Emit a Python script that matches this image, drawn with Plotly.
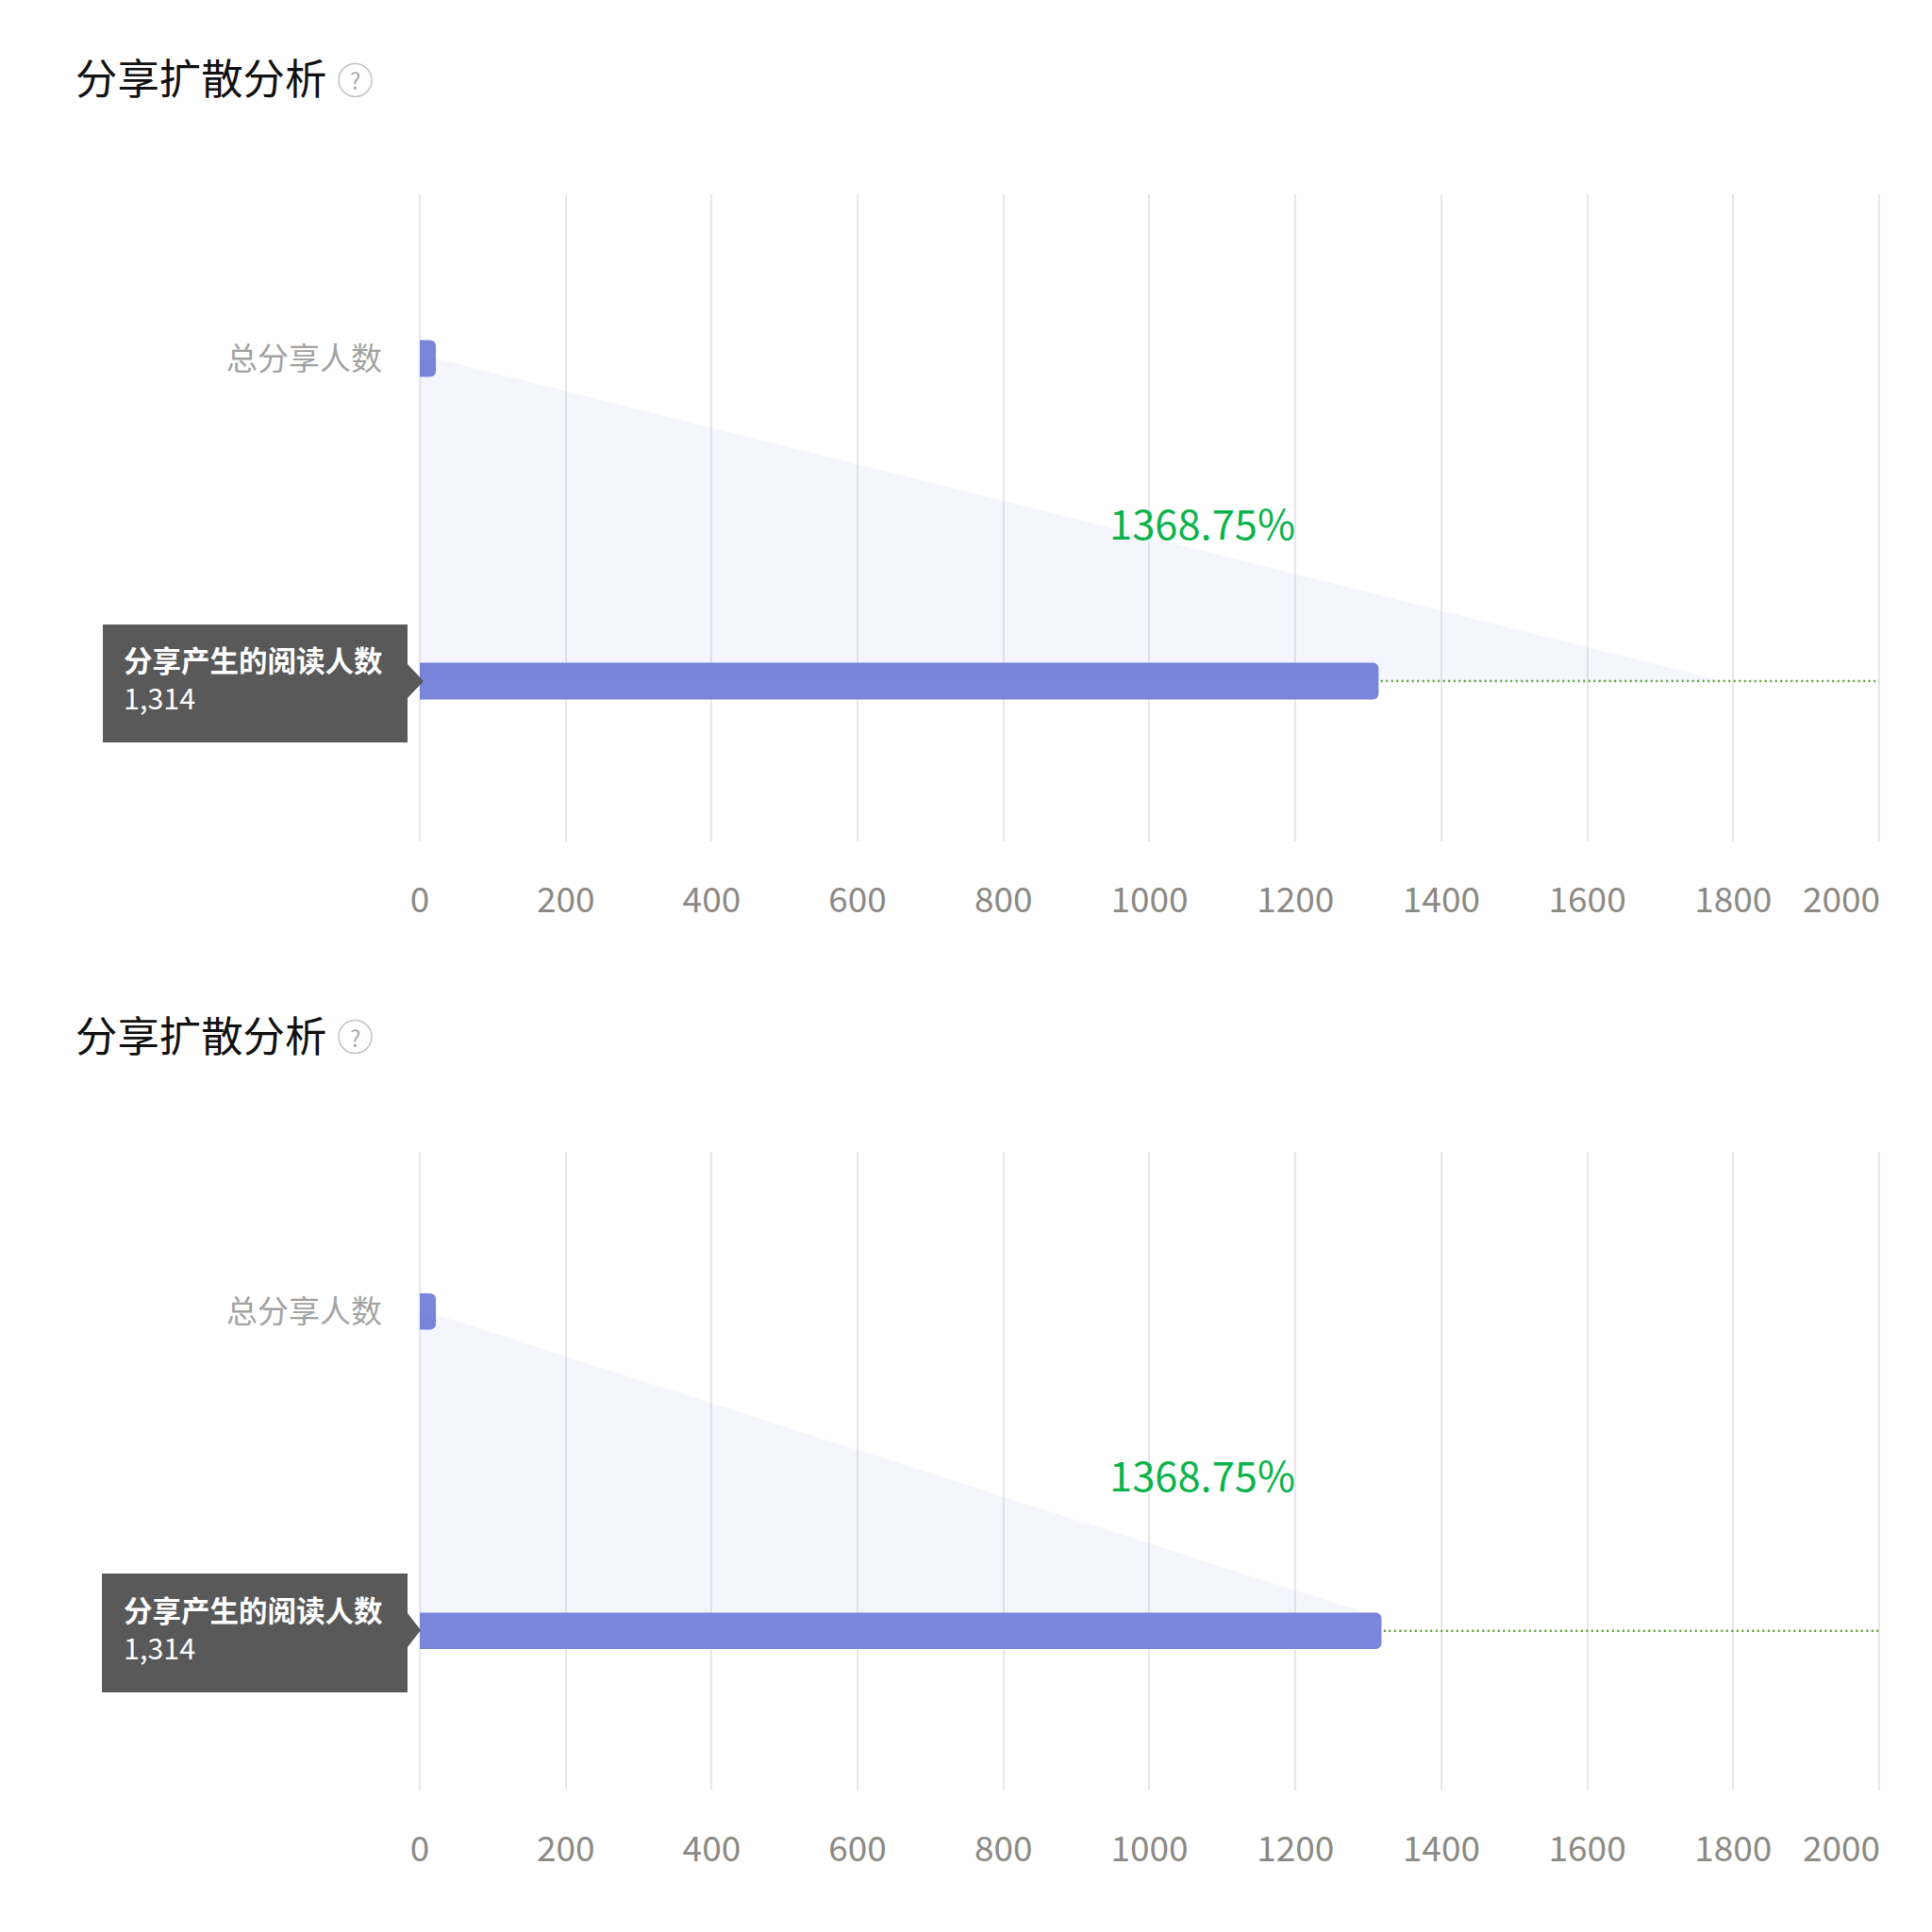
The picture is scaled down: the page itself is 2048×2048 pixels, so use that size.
import plotly.graph_objects as go

categories = ["总分享人数", "分享产生的阅读人数"]
share_values_top = [22, 1314]
share_values_bottom = [22, 1318]
funnel_x_top = [0, 22, 1785, 0]
funnel_x_bottom = [0, 22, 1295, 0]
funnel_y_top = [0.0, 0.0, 1.0, 1.0]
funnel_y_bottom = [0.01, 0.01, 0.943, 0.943]
x_ticks = [0, 200, 400, 600, 800, 1000, 1200, 1400, 1600, 1800, 2000]
x_tick_text = ["0", "200", "400", "600", "800", "1000", "1200", "1400", "1600", "1800", ""]
last_tick_text = "2000"
rate_label = "1368.75%"
value_label = "1,314"
title_text = "分享扩散分析"

PAGE_MARGIN = 8
W = H = 2048 - PAGE_MARGIN
FONT = "Noto Sans CJK SC"
PX0, PX1 = 445, 1992
PAD = 3  # axis units beyond each end, so the end gridlines stay drawn
PAD_PX = PAD * (PX1 - PX0) / 2000
BAR = "#7a85dc"
GRID = "#e8e8eb"
TICK = "#8c8a85"


def px(v):
    return (v - PAGE_MARGIN) / W


def py(v):
    return 1 - (v - PAGE_MARGIN) / H


fig = go.Figure()
panels = [
    dict(n="", top=206, bottom=892, yrange=[1.497, -0.509], vals=share_values_top, fx=funnel_x_top, fy=funnel_y_top,
         title_y=81, rate_y=554, box=(109, 432, 662, 787), tip=(449, 722), ty=719),
    dict(n="2", top=1221, bottom=1898, yrange=[1.5, -0.5], vals=share_values_bottom, fx=funnel_x_bottom,
         fy=funnel_y_bottom, title_y=1095, rate_y=1562, box=(108, 432, 1668, 1794), tip=(446, 1728), ty=1726),
]

shapes, annos = [], []
for p in panels:
    xa, ya = "x" + p["n"], "y" + p["n"]
    xl, yl = "xaxis" + p["n"], "yaxis" + p["n"]
    fig.add_trace(go.Scatter(x=p["fx"], y=p["fy"], xaxis=xa, yaxis=ya, mode="lines", fill="toself",
                             line=dict(width=0), fillcolor="rgba(110,110,225,0.065)", hoverinfo="skip",
                             showlegend=False))
    fig.add_trace(go.Bar(x=p["vals"], y=[0, 1], orientation="h", xaxis=xa, yaxis=ya, width=0.114,
                         marker=dict(color=BAR, cornerradius=6, line=dict(width=0)), showlegend=False))
    fig.add_trace(go.Scatter(x=[p["vals"][1] + 3, 2000], y=[1, 1], xaxis=xa, yaxis=ya, mode="lines",
                             line=dict(color="#5fa63f", width=2.5, dash="2px 3.5px"), showlegend=False))
    fig.update_layout(**{
        xl: dict(domain=[px(PX0 - PAD_PX), px(PX1 + PAD_PX)], range=[-PAD, 2000 + PAD], anchor=ya, tickvals=x_ticks,
                 ticktext=x_tick_text, tickmode="array", showgrid=True, gridcolor=GRID, gridwidth=1.5, zeroline=False,
                 showline=False, automargin=False, ticks="outside", ticklen=30, tickcolor="rgba(0,0,0,0)", tickangle=0,
                 tickfont=dict(family=FONT, size=37, color=TICK)),
        yl: dict(domain=[py(p["bottom"]), py(p["top"])], range=p["yrange"], anchor=xa, tickmode="array",
                 tickvals=[0], ticktext=[categories[0]], showgrid=False, zeroline=False, showline=False,
                 automargin=False, ticks="outside", ticklen=30, tickcolor="rgba(0,0,0,0)",
                 tickfont=dict(family=FONT, size=33, color="#a3a3a3")),
    })
    annos.append(dict(text=last_tick_text, xref=xa, x=2000, xanchor="right", xshift=3, yref="paper",
                      y=py(p["bottom"] + 59), yanchor="middle", showarrow=False,
                      font=dict(family=FONT, size=37, color=TICK)))
    annos.append(dict(text=rate_label, xref="paper", x=px(1274), xanchor="center", yref="paper", y=py(p["rate_y"]),
                      yanchor="middle", showarrow=False, font=dict(family=FONT, size=43.5, color="#0cb34c")))
    annos.append(dict(text=title_text, xref="paper", x=px(78), xanchor="left", yref="paper", y=py(p["title_y"]),
                      yanchor="middle", showarrow=False, font=dict(family=FONT, size=44.4, color="#111111")))
    iy = p["title_y"] + 4
    shapes.append(dict(type="circle", xref="paper", yref="paper", x0=px(359), x1=px(394), y0=py(iy + 17.5),
                       y1=py(iy - 17.5), line=dict(color="#c4c4c4", width=1.5), fillcolor="rgba(0,0,0,0)"))
    annos.append(dict(text="?", xref="paper", x=px(376.5), xanchor="center", yref="paper", y=py(iy), yanchor="middle",
                      showarrow=False, font=dict(family=FONT, size=24, color="#a8a8a8")))
    x0, x1, y0, y1 = p["box"]
    tx, tcy = p["tip"]
    path = (f"M {px(x0)} {py(y0)} L {px(x1)} {py(y0)} L {px(x1)} {py(tcy - 18)} L {px(tx)} {py(tcy)} "
            f"L {px(x1)} {py(tcy + 18)} L {px(x1)} {py(y1)} L {px(x0)} {py(y1)} Z")
    shapes.append(dict(type="path", xref="paper", yref="paper", path=path, fillcolor="#595959", line=dict(width=0)))
    annos.append(dict(text="<b>" + categories[1] + "</b><br>" + value_label, xref="paper", x=px(129), xanchor="left",
                      align="left", yref="paper", y=py(p["ty"]), yanchor="middle", showarrow=False,
                      font=dict(family=FONT, size=30.5, color="#ffffff")))

fig.update_layout(width=W, height=H, margin=dict(l=0, r=0, t=0, b=0), paper_bgcolor="white", plot_bgcolor="white",
                  showlegend=False, shapes=shapes, annotations=annos, barmode="overlay")
fig.write_html("out.html", config=dict(displayModeBar=False))
